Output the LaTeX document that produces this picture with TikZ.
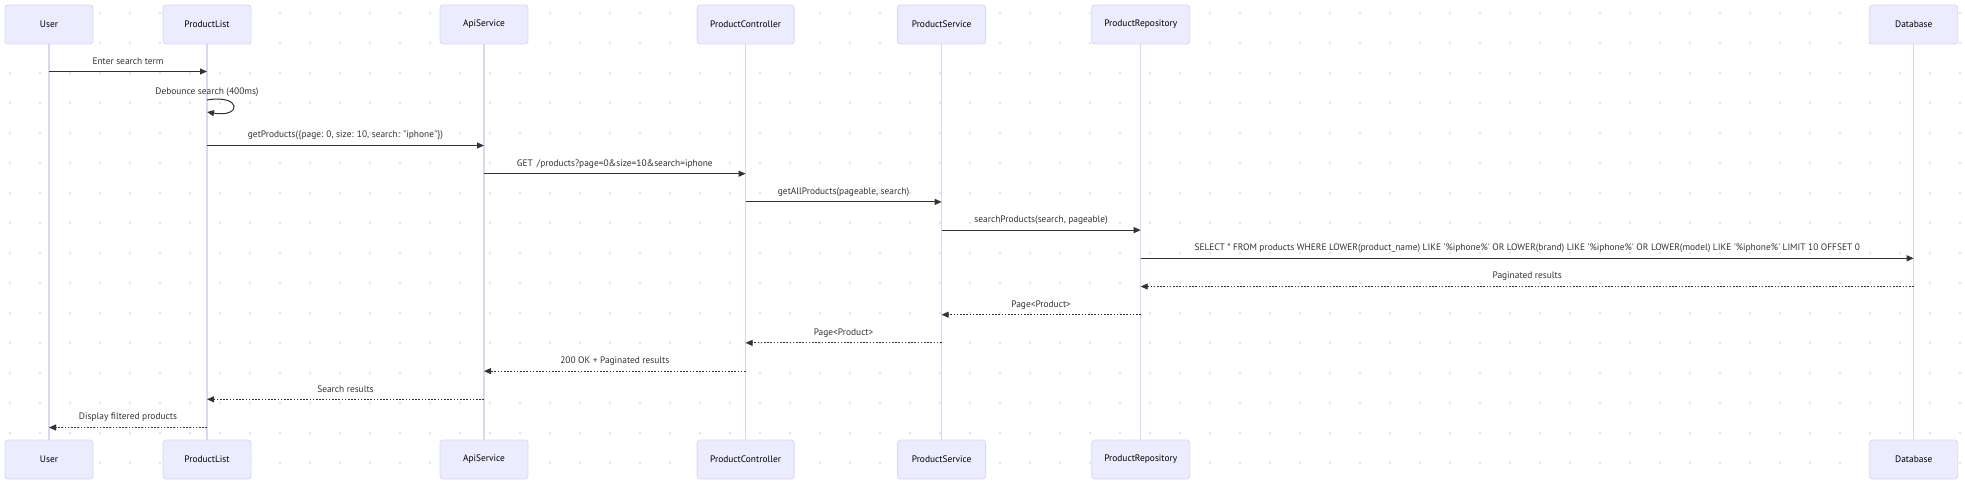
\documentclass[tikz,border=0pt]{standalone}
\usepackage{fontspec}
\setmainfont{PT Sans}
\usetikzlibrary{arrows.meta}
\definecolor{actfill}{HTML}{ECECFF}
\definecolor{actline}{HTML}{DCD5F3}
\definecolor{msgcol}{HTML}{333333}
\definecolor{dotcol}{HTML}{E4E4E4}
\begin{document}
\begin{tikzpicture}[x=1pt,y=-1pt,font=\fontsize{9.4}{11}\selectfont,
  actor/.style={draw=actline,fill=actfill,rounded corners=3pt,line width=0.8pt,minimum height=39pt,inner sep=0pt,text=black},
  life/.style={draw=actline,line width=1.2pt},
  msg/.style={draw=msgcol,line width=1pt,-{Triangle[length=7pt,width=6pt]}},
  ret/.style={msg,line width=0.9pt,dash pattern=on 1.6pt off 1.6pt},
  lbl/.style={text=msgcol,yshift=10pt,inner sep=0pt}]
\useasboundingbox[fill=white] (0,0) rectangle (1965,484);
\foreach \i in {0,...,65} \foreach \j in {0,...,15} \fill[dotcol] (10+30*\i,13+30*\j) circle (1.3pt);
% actors
\node[actor,minimum width=88pt] (uT) at (49,24.5) {User};
\node[actor,minimum width=88pt] (plT) at (207,24.5) {ProductList};
\node[actor,minimum width=88pt] (apiT) at (484,24.5) {ApiService};
\node[actor,minimum width=97pt] (pcT) at (745.6,24.5) {ProductController};
\node[actor,minimum width=88pt] (psT) at (941.6,24.5) {ProductService};
\node[actor,minimum width=98pt] (prT) at (1140.7,24.5) {ProductRepository};
\node[actor,minimum width=88pt] (dbT) at (1913.7,24.5) {Database};
\node[actor,minimum width=88pt] (uB) at (49,459.5) {User};
\node[actor,minimum width=88pt] (plB) at (207,459.5) {ProductList};
\node[actor,minimum width=88pt] (apiB) at (484,459.5) {ApiService};
\node[actor,minimum width=97pt] (pcB) at (745.6,459.5) {ProductController};
\node[actor,minimum width=88pt] (psB) at (941.6,459.5) {ProductService};
\node[actor,minimum width=98pt] (prB) at (1140.7,459.5) {ProductRepository};
\node[actor,minimum width=88pt] (dbB) at (1913.7,459.5) {Database};
% lifelines
\foreach \a in {u,pl,api,pc,ps,pr,db} \draw[life] (\a T.south) -- (\a B.north);
% message anchors
\coordinate (m1a) at (uT |- 0,71.5);   \coordinate (m1b) at (plT |- 0,71.5);
\coordinate (s1) at (plT |- 0,100);    \coordinate (s2) at (plT |- 0,112);
\coordinate (m3a) at (plT |- 0,145.5); \coordinate (m3b) at (apiT |- 0,145.5);
\coordinate (m4a) at (apiT |- 0,173.7); \coordinate (m4b) at (pcT |- 0,173.7);
\coordinate (m5a) at (pcT |- 0,201.9); \coordinate (m5b) at (psT |- 0,201.9);
\coordinate (m6a) at (psT |- 0,230.1); \coordinate (m6b) at (prT |- 0,230.1);
\coordinate (m7a) at (prT |- 0,258.3); \coordinate (m7b) at (dbT |- 0,258.3);
\coordinate (m8a) at (dbT |- 0,286.5); \coordinate (m8b) at (prT |- 0,286.5);
\coordinate (m9a) at (prT |- 0,314.7); \coordinate (m9b) at (psT |- 0,314.7);
\coordinate (m10a) at (psT |- 0,342.9); \coordinate (m10b) at (pcT |- 0,342.9);
\coordinate (m11a) at (pcT |- 0,371.1); \coordinate (m11b) at (apiT |- 0,371.1);
\coordinate (m12a) at (apiT |- 0,399.3); \coordinate (m12b) at (plT |- 0,399.3);
\coordinate (m13a) at (plT |- 0,427.5); \coordinate (m13b) at (uT |- 0,427.5);
% messages
\draw[msg] (m1a) -- node[lbl] {Enter search term} (m1b);
\draw[msg] (s1) .. controls +(35,-6) and +(35,6) .. (s2);
\node[lbl,yshift=-12pt] (loopl) at (plT |- 0,90) {Debounce search (400ms)};
\draw[msg] (m3a) -- node[lbl] {getProducts(\{page: 0, size: 10, search: \textquotedbl iphone\textquotedbl\})} (m3b);
\draw[msg] (m4a) -- node[lbl] {GET\ \,/products?page=0\&size=10\&search=iphone} (m4b);
\draw[msg] (m5a) -- node[lbl] {getAllProducts(pageable, search)} (m5b);
\draw[msg] (m6a) -- node[lbl] {searchProducts(search, pageable)} (m6b);
\draw[msg] (m7a) -- node[lbl] {SELECT * FROM products WHERE LOWER(product\_name) LIKE \textquotesingle\%iphone\%\textquotesingle{} OR LOWER(brand) LIKE \textquotesingle\%iphone\%\textquotesingle{} OR LOWER(model) LIKE \textquotesingle\%iphone\%\textquotesingle{} LIMIT 10 OFFSET 0} (m7b);
\draw[ret] (m8a) -- node[lbl] {Paginated results} (m8b);
\draw[ret] (m9a) -- node[lbl] {Page<Product>} (m9b);
\draw[ret] (m10a) -- node[lbl] {Page<Product>} (m10b);
\draw[ret] (m11a) -- node[lbl] {200 OK + Paginated results} (m11b);
\draw[ret] (m12a) -- node[lbl] {Search results} (m12b);
\draw[ret] (m13a) -- node[lbl] {Display filtered products} (m13b);
\end{tikzpicture}
\end{document}
